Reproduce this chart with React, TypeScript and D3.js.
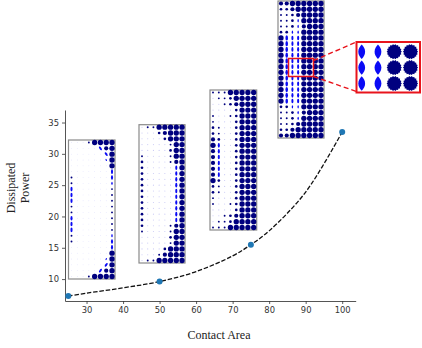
import React, { useRef, useEffect } from "react";
import * as d3 from "d3";

const pointAreas = [25, 50, 75, 100];
const pointPowers = [7.3, 9.6, 15.5, 33.5];

const curveAreas = [25, 30, 40, 50, 60, 70, 75, 80, 90, 100];
const curvePowers = [7.3, 7.75, 8.6, 9.6, 11.2, 13.7, 15.5, 17.7, 23.9, 33.5];

const xTicks = [30, 40, 50, 60, 70, 80, 90, 100];
const yTicks = [10, 15, 20, 25, 30, 35];

// cell codes: . faint, - faint bigger, s m l F navy dots, a b c blue ellipses, n o p q tilted ellipses
const grid1 = [
  "...sFFFF",
  ".....nlF",
  "......nF",
  "......oF",
  ".......F",
  ".......b",
  "s......b",
  "s......a",
  "b......s",
  "b......s",
  "b......s",
  "s......s",
  "s......s",
  "b......s",
  "b......s",
  "b......s",
  "s......a",
  "s......b",
  ".......b",
  ".......F",
  "......qF",
  "......pF",
  ".....plF",
  "...sFFFF",
];
const grid2 = [
  "-ssFFFFF",
  "---mlFFF",
  "----mFFF",
  "-----sFF",
  "-----mFF",
  "s----sFF",
  "m----slF",
  "m-----bF",
  "m-----bF",
  "m-----bF",
  "m-----bF",
  "m-----bF",
  "m-----bF",
  "m-----bF",
  "m-----bF",
  "m-----bF",
  "m-----bF",
  "m----slF",
  "s----sFF",
  "-----mFF",
  "-----sFF",
  "----mFFF",
  "---slFFF",
  "-ssFFFFF",
];
const grid3 = [
  "sssFFFFF",
  "-ssmFFFF",
  "--smlFFF",
  "----mFFF",
  "s--smFFF",
  "s---mFFF",
  "ms--mFFF",
  "ms--mFFF",
  "lm--mFFF",
  "Fb--mFFF",
  "lb--mFFF",
  "lb--mFFF",
  "lb--mFFF",
  "lb--mFFF",
  "lb--mFFF",
  "Fm--mFFF",
  "ms--mFFF",
  "ms--mFFF",
  "s---mFFF",
  "s--smFFF",
  "----mFFF",
  "--smlFFF",
  "-ssmFFFF",
  "sssFFFFF",
];
const grid4 = [
  "llFFFFFF",
  "mmlFFFFF",
  "ssmlFFFF",
  "ssmaFFFF",
  "ssmalFFF",
  "mmaaFFFF",
  "FcbbFFFF",
  "FcbbFFFF",
  "FcbbFFFF",
  "FcbbFFFF",
  "FcbbFFFF",
  "FcbbFFFF",
  "FcbbFFFF",
  "FcbbFFFF",
  "FcbbFFFF",
  "FcbbFFFF",
  "FcbbFFFF",
  "FcbbFFFF",
  "mmaaFFFF",
  "ssmalFFF",
  "ssmaFFFF",
  "ssmlFFFF",
  "mmlFFFFF",
  "llFFFFFF",
];
const zoomGrid = ["bbFF", "bbFF", "bbFF"];

const insets = [
  { grid: grid1, left: 68.5, right: 115, top: 140, bottom: 279 },
  { grid: grid2, left: 139, right: 185, top: 124.7, bottom: 263 },
  { grid: grid3, left: 210, right: 256.7, top: 90, bottom: 230 },
  { grid: grid4, left: 278, right: 324, top: 1, bottom: 138 },
];

const NAVY = "#00007f";
const BLUE = "#0a0af5";

const cellStyle = {
  ".": { rx: 0.4, ry: 0.4, fill: "#d4d4fa", angle: 0 },
  "-": { rx: 0.55, ry: 0.55, fill: "#c8c8f4", angle: 0 },
  s: { rx: 0.95, ry: 0.95, fill: NAVY, angle: 0 },
  m: { rx: 1.35, ry: 1.35, fill: NAVY, angle: 0 },
  l: { rx: 2.1, ry: 2.1, fill: NAVY, angle: 0 },
  F: { rx: 2.65, ry: 2.65, fill: NAVY, angle: 0 },
  a: { rx: 0.7, ry: 1.6, fill: BLUE, angle: 0 },
  b: { rx: 1.05, ry: 2.3, fill: BLUE, angle: 0 },
  c: { rx: 1.3, ry: 2.6, fill: BLUE, angle: 0 },
  n: { rx: 1, ry: 2.2, fill: BLUE, angle: -35 },
  o: { rx: 0.6, ry: 1.2, fill: BLUE, angle: -25 },
  p: { rx: 1, ry: 2.2, fill: BLUE, angle: 35 },
  q: { rx: 0.6, ry: 1.2, fill: BLUE, angle: 25 },
};

const App = () => {
  const chartRef = useRef();

  useEffect(() => {
    const svg = d3.select(chartRef.current);
    svg.selectAll("*").remove();

    const xScale = d3.scaleLinear().domain([24.1, 103.7]).range([65, 355.7]);
    const yScale = d3.scaleLinear().domain([6.5, 37]).range([301, 110]);

    const xAxis = svg
      .append("g")
      .attr("transform", "translate(0,301)")
      .call(
        d3
          .axisBottom(xScale)
          .tickValues(xTicks)
          .tickSize(3)
          .tickSizeOuter(0)
          .tickPadding(3)
      );
    const yAxis = svg
      .append("g")
      .attr("transform", "translate(65,0)")
      .call(
        d3
          .axisLeft(yScale)
          .tickValues(yTicks)
          .tickSize(3)
          .tickSizeOuter(0)
          .tickPadding(3)
      );

    [xAxis, yAxis].forEach((axis) => {
      axis
        .selectAll("text")
        .attr("font-family", "DejaVu Sans")
        .attr("font-size", 8.4)
        .attr("fill", "#333");
      axis.selectAll("line").attr("stroke", "#333").attr("stroke-width", 0.8);
      axis.select(".domain").attr("stroke", "#555").attr("stroke-width", 1);
    });

    const line = d3
      .line()
      .x((d) => xScale(d[0]))
      .y((d) => yScale(d[1]))
      .curve(d3.curveCatmullRom);

    svg
      .append("path")
      .attr("d", line(curveAreas.map((a, i) => [a, curvePowers[i]])))
      .attr("fill", "none")
      .attr("stroke", "#111")
      .attr("stroke-width", 1.3)
      .attr("stroke-dasharray", "4.5 1.8");

    svg
      .selectAll(".point")
      .data(pointAreas)
      .join("circle")
      .attr("class", "point")
      .attr("cx", (d) => xScale(d))
      .attr("cy", (d, i) => yScale(pointPowers[i]))
      .attr("r", 3)
      .attr("fill", "#1f77b4");

    insets.forEach((inset) => {
      const g = svg.append("g");
      g.append("rect")
        .attr("x", inset.left)
        .attr("y", inset.top)
        .attr("width", inset.right - inset.left)
        .attr("height", inset.bottom - inset.top)
        .attr("fill", "white")
        .attr("stroke", "#8a8a8a")
        .attr("stroke-width", 1.2);

      const col = d3
        .scalePoint()
        .domain(d3.range(8))
        .range([inset.left + 3, inset.right - 3]);
      const row = d3
        .scalePoint()
        .domain(d3.range(inset.grid.length))
        .range([inset.top + 2.5, inset.bottom - 2.5]);

      inset.grid.forEach((cells, r) => {
        cells.split("").forEach((code, c) => {
          const style = cellStyle[code];
          g.append("ellipse")
            .attr("rx", style.rx)
            .attr("ry", style.ry)
            .attr("fill", style.fill)
            .attr(
              "transform",
              `translate(${col(c)},${row(r)}) rotate(${style.angle})`
            );
        });
      });
    });

    // red box over the last inset and the enlarged view
    const boxLeft = 288.5;
    const boxRight = 313.5;
    const boxTop = 58.5;
    const boxBottom = 76.5;
    const panelLeft = 356.5;
    const panelRight = 420;
    const panelTop = 42;
    const panelBottom = 92.5;

    svg
      .append("rect")
      .attr("x", boxLeft)
      .attr("y", boxTop)
      .attr("width", boxRight - boxLeft)
      .attr("height", boxBottom - boxTop)
      .attr("fill", "none")
      .attr("stroke", "#e8141c")
      .attr("stroke-width", 1.5);

    [
      [boxRight, boxTop + 2, panelLeft, panelTop],
      [boxRight, boxBottom, panelLeft, panelBottom - 1],
    ].forEach((d) => {
      svg
        .append("line")
        .attr("x1", d[0])
        .attr("y1", d[1])
        .attr("x2", d[2])
        .attr("y2", d[3])
        .attr("stroke", "#e8141c")
        .attr("stroke-width", 1.4)
        .attr("stroke-dasharray", "5 3");
    });

    svg
      .append("rect")
      .attr("x", panelLeft)
      .attr("y", panelTop)
      .attr("width", panelRight - panelLeft)
      .attr("height", panelBottom - panelTop)
      .attr("fill", "white")
      .attr("stroke", "#e8141c")
      .attr("stroke-width", 2);

    const panelCol = d3
      .scalePoint()
      .domain(d3.range(4))
      .range([361.7, 410.5]);
    const panelRow = d3.scalePoint().domain(d3.range(3)).range([51.7, 83.5]);

    const spikes = 18;
    const star = d3
      .lineRadial()
      .angle((d) => (d * Math.PI) / spikes)
      .radius((d) => (d % 2 ? 7.6 : 6.6))
      .curve(d3.curveLinearClosed);

    // pointed ellipse like the blue marks of the enlarged view
    const lens = "M0,-7.2C1.8,-5.4 3.4,-3 3.4,0C3.4,3 1.8,5.4 0,7.2C-1.8,5.4 -3.4,3 -3.4,0C-3.4,-3 -1.8,-5.4 0,-7.2Z";

    zoomGrid.forEach((cells, r) => {
      cells.split("").forEach((code, c) => {
        svg
          .append("path")
          .attr("d", code === "F" ? star(d3.range(spikes * 2)) : lens)
          .attr("transform", `translate(${panelCol(c)},${panelRow(r)})`)
          .attr("fill", code === "F" ? NAVY : BLUE);
      });
    });
  }, []);

  const labelFont = "Liberation Serif";

  return (
    <svg
      width={422}
      height={348}
      style={{ position: "absolute", left: 0, top: 0, background: "white" }}
    >
      <g ref={chartRef}></g>
      <text
        x={219}
        y={339}
        textAnchor="middle"
        fontFamily={labelFont}
        fontSize={12}
        fill="#222"
      >
        Contact Area
      </text>
      <text
        transform="translate(15,188) rotate(-90)"
        textAnchor="middle"
        fontFamily={labelFont}
        fontSize={12}
        fill="#222"
      >
        Dissipated
      </text>
      <text
        transform="translate(29,188) rotate(-90)"
        textAnchor="middle"
        fontFamily={labelFont}
        fontSize={12}
        fill="#222"
      >
        Power
      </text>
    </svg>
  );
};

export default App;
